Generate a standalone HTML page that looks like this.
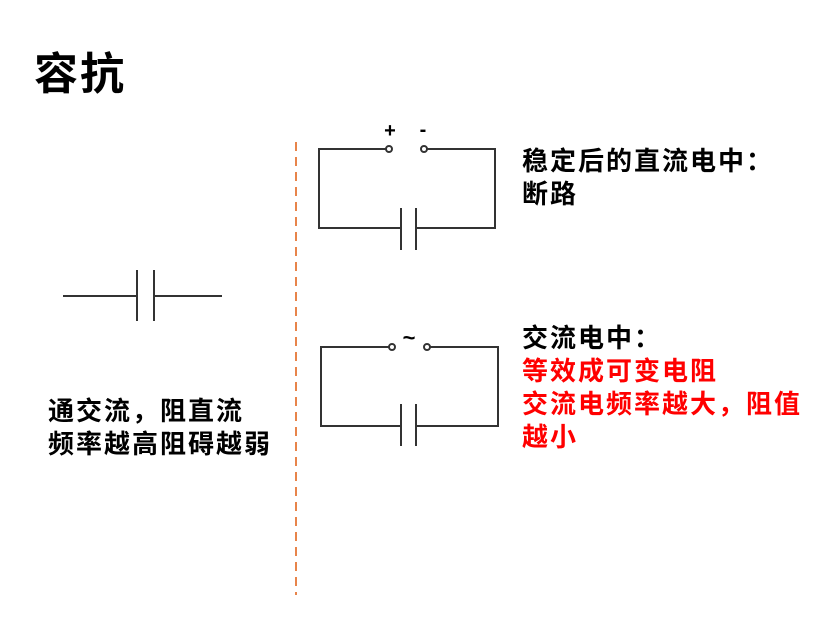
<!DOCTYPE html>
<html><head><meta charset="utf-8"><style>
body{margin:0;width:837px;height:625px;background:#fff;position:relative;overflow:hidden;font-family:"Liberation Sans","Noto Sans CJK SC",sans-serif;}
.t{position:absolute;font-weight:bold;color:#000;white-space:nowrap;}
</style></head><body>
<div class="t" style="left:34px;top:48px;font-size:44px;line-height:54px;letter-spacing:2px;">容抗</div>
<div class="t" style="left:48px;top:395px;font-size:26px;line-height:33px;letter-spacing:2px;">通交流，阻直流<br>频率越高阻碍越弱</div>
<div class="t" style="left:522px;top:145px;font-size:26px;line-height:33px;letter-spacing:2px;">稳定后的直流电中：<br>断路</div>
<div class="t" style="left:522px;top:322px;font-size:26px;line-height:33px;letter-spacing:2px;">交流电中：<br><span style="color:#f00">等效成可变电阻<br>交流电频率越大，阻值<br>越小</span></div>
<svg width="837" height="625" style="position:absolute;left:0;top:0">
<g stroke="#333" stroke-width="2" fill="none">
<line x1="63" y1="296" x2="137" y2="296"/><line x1="137" y1="270" x2="137" y2="321"/><line x1="154" y1="270" x2="154" y2="321"/><line x1="154" y1="296" x2="222" y2="296"/>
<polyline points="386,149 319,149 319,228 401,228"/><polyline points="427,149 495,149 495,228 416,228"/>
<line x1="401" y1="208" x2="401" y2="250"/><line x1="416" y1="208" x2="416" y2="250"/>
<circle cx="389" cy="149" r="3" fill="#fff"/><circle cx="424" cy="149" r="3" fill="#fff"/>
<polyline points="389,347 321,347 321,426 401,426"/><polyline points="430,347 498,347 498,426 416,426"/>
<line x1="401" y1="404" x2="401" y2="446"/><line x1="416" y1="404" x2="416" y2="446"/>
<circle cx="392" cy="347" r="3" fill="#fff"/><circle cx="427" cy="347" r="3" fill="#fff"/>
</g>
<line x1="296" y1="142" x2="296" y2="595" stroke="#e8844a" stroke-width="2" stroke-dasharray="9,6"/>
<text x="390" y="137" font-size="20" font-weight="bold" text-anchor="middle" font-family="Liberation Sans">+</text>
<text x="423" y="136" font-size="20" font-weight="bold" text-anchor="middle" font-family="Liberation Sans">-</text>
<text x="409" y="345" font-size="22" font-weight="bold" text-anchor="middle" font-family="Liberation Sans">~</text>
</svg>
</body></html>
